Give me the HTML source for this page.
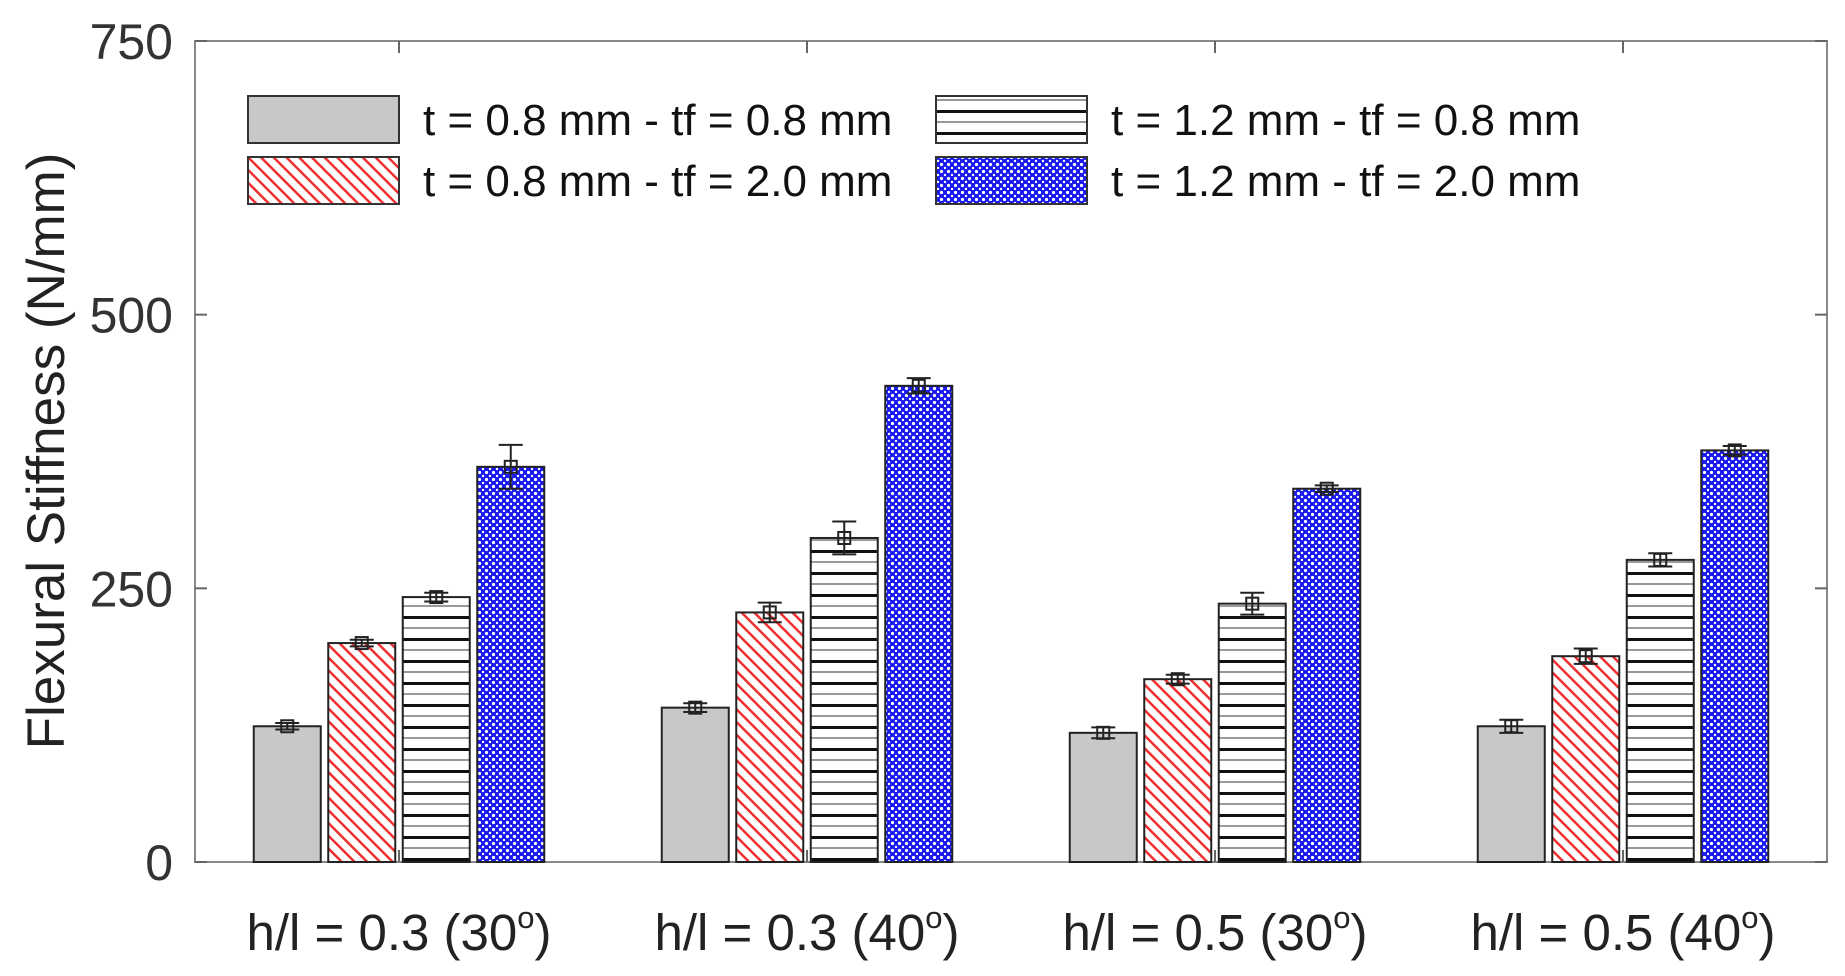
<!DOCTYPE html>
<html><head><meta charset="utf-8"><style>
html,body{margin:0;padding:0;background:#fff;}
svg{display:block;font-family:"Liberation Sans",sans-serif;}
</style></head><body>
<svg id="chart" width="1845" height="976" viewBox="0 0 1845 976">
<defs>
<pattern id="pRed" width="9" height="9" patternUnits="userSpaceOnUse" patternTransform="rotate(-45)">
<rect width="9" height="9" fill="#fff"/><rect x="0" y="0" width="2.5" height="9" fill="#f03030"/></pattern>
<pattern id="pBlack" width="10" height="22" patternUnits="userSpaceOnUse">
<rect width="10" height="22" fill="#fff"/><rect y="0" width="10" height="3" fill="#111"/><rect y="11" width="10" height="2" fill="#999"/></pattern>
<pattern id="pBlue" width="7" height="7" patternUnits="userSpaceOnUse">
<rect width="7" height="7" fill="#1a1aee"/><circle cx="3.5" cy="3.5" r="1.6" fill="#fff"/><circle cx="0" cy="0" r="1.2" fill="#fff"/><circle cx="7" cy="7" r="1.2" fill="#fff"/><circle cx="0" cy="7" r="1.2" fill="#fff"/><circle cx="7" cy="0" r="1.2" fill="#fff"/></pattern>
</defs>
<g id="plot"></g>
</svg>
<script>
const categories=["h/l = 0.3 (30","h/l = 0.3 (40","h/l = 0.5 (30","h/l = 0.5 (40"];
const seriesNames=["t = 0.8 mm - tf = 0.8 mm","t = 0.8 mm - tf = 2.0 mm","t = 1.2 mm - tf = 0.8 mm","t = 1.2 mm - tf = 2.0 mm"];
const s1=[124,141,118,124];
const s2=[200,228,167,188];
const s3=[242,296,236,276];
const s4=[361,435,341,376];
const e1=[3,4,5,6];
const e2=[3,9,4,7];
const e3=[4,15,10,6];
const e4=[20,7,3,4];
const yTicks=[0,250,500,750];

const series=[s1,s2,s3,s4], errs=[e1,e2,e3,e4];
const fills=["#c8c8c8","url(#pRed)","url(#pBlack)","url(#pBlue)"];
const L=195,R=1827,T=41,B=862;
const x=v=>L+(v-0.5)/4*(R-L);
const y=v=>B-v/750*(B-T);
const NS="http://www.w3.org/2000/svg";
const g=document.getElementById('plot');
function mk(t,a,p){const e=document.createElementNS(NS,t);for(const k in a)e.setAttribute(k,a[k]);(p||g).appendChild(e);return e;}
const box=mk('rect',{x:L,y:T,width:R-L,height:B-T,fill:'none',stroke:'#888','stroke-width':2});


yTicks.forEach(v=>{
 mk('line',{x1:L,x2:L+12,y1:y(v),y2:y(v),stroke:'#666','stroke-width':2});
 mk('line',{x1:R,x2:R-12,y1:y(v),y2:y(v),stroke:'#666','stroke-width':2});
 const t=mk('text',{x:L-22,y:y(v)+18,'text-anchor':'end','font-size':50,fill:'#333'});t.textContent=v;
 
 
});
const bw=67, step=74.5;
categories.forEach((c,i)=>{
 const cx=x(i+1);
 mk('line',{x1:cx,x2:cx,y1:T,y2:T+12,stroke:'#666','stroke-width':2});
 mk('line',{x1:cx,x2:cx,y1:B,y2:B-12,stroke:'#666','stroke-width':2});
 const t=mk('text',{x:cx,y:950,'text-anchor':'middle','font-size':51,fill:'#222'});
 t.textContent=c;
 const sup=mk('tspan',{dy:-22,'font-size':31},t);sup.textContent='o';
 const cl=mk('tspan',{dy:22},t);cl.textContent=')';
 
 
 series.forEach((s,j)=>{
  const bx=cx+(j-1.5)*step;
  const r=mk('rect',{x:bx-bw/2,y:y(s[i]),width:bw,height:B-y(s[i]),fill:fills[j],stroke:'#222','stroke-width':2});
  
  
  const e=errs[j][i];
  const eg=mk('g',{stroke:'#222','stroke-width':2,fill:'none'});
  
  
  mk('line',{x1:bx,x2:bx,y1:y(s[i]+e),y2:y(s[i]-e)},eg);
  mk('line',{x1:bx-12,x2:bx+12,y1:y(s[i]+e),y2:y(s[i]+e)},eg);
  mk('line',{x1:bx-12,x2:bx+12,y1:y(s[i]-e),y2:y(s[i]-e)},eg);
  mk('rect',{x:bx-6,y:y(s[i])-6,width:12,height:12},eg);
 });
});
const yl=mk('text',{x:0,y:0,transform:'translate(64,451) rotate(-90)','text-anchor':'middle','font-size':53,fill:'#222'});
yl.textContent='Flexural Stiffness (N/mm)';


const lpos=[[248,96],[248,157],[936,96],[936,157]];
seriesNames.forEach((n,j)=>{
 const lg=mk('g',{});
 
 
 mk('rect',{x:lpos[j][0],y:lpos[j][1],width:151,height:47,fill:fills[j],stroke:'#333','stroke-width':2},lg);
 const t=mk('text',{x:lpos[j][0]+175,y:lpos[j][1]+39,'font-size':44,fill:'#111'},lg);t.textContent=n;
});
</script>
</body></html>
